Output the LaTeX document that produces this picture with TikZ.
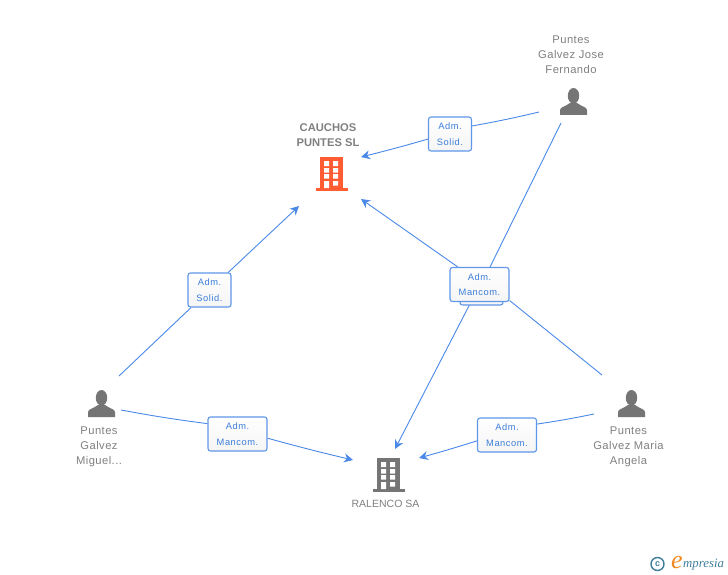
\documentclass[tikz,border=0pt]{standalone}
\usepackage{fontspec}
\setmainfont{Liberation Sans}
\newfontfamily\logofont{Liberation Serif}
\usetikzlibrary{arrows.meta,backgrounds}
\definecolor{linkblue}{HTML}{4A89E8}
\definecolor{boxblue}{HTML}{5F97EA}
\definecolor{labelblue}{HTML}{3B7DD8}
\definecolor{namegray}{HTML}{808080}
\definecolor{icongray}{HTML}{757575}
\definecolor{iconorange}{HTML}{FF5C33}
\definecolor{logoteal}{HTML}{3F7F9C}
\definecolor{logoorange}{HTML}{F08A24}
\tikzset{
  link/.style={draw=linkblue,line width=0.9pt},
  linkarrow/.style={link,-{Stealth[length=9pt,width=9pt]}},
  rolebox/.style={draw=boxblue,line width=1.1pt,rounded corners=2.5pt,top color=white,bottom color=white!96!black,
    inner sep=0pt,align=center,text=labelblue,font=\fontsize{9.3}{15.5}\selectfont\addfontfeature{LetterSpace=6}},
  smallbox/.style={rolebox,minimum width=43pt,minimum height=34pt},
  widebox/.style={rolebox,minimum width=59pt,minimum height=34pt},
  namelabel/.style={inner sep=0pt,align=center,text=namegray,font=\fontsize{11.2}{15}\selectfont\addfontfeature{LetterSpace=4}},
  person/.pic={
    \fill[icongray] (0,7.8) ellipse (5.7 and 7.8);
    \fill[icongray] (-13.5,27) -- (-13.5,22) .. controls (-13.3,19) and (-8,18.5) .. (-3.5,15) -- (3.5,15) .. controls (8,18.5) and (13.3,19) .. (13.5,22) -- (13.5,27) -- cycle;
  },
  building/.pic={
    \fill[pic actions] (0,0) rectangle (23,31.5);
    \fill[pic actions] (-4.5,31) rectangle (27.5,34);
    \fill[white] (4,4) rectangle (9,9) (13,4) rectangle (18,9)
      (4,11) rectangle (9,15.5) (13,11) rectangle (18,15.5)
      (4,17) rectangle (9,21.5) (13,17) rectangle (18,21.5)
      (4,24) rectangle (9,31) (13,24) rectangle (18,28.5);
  },
}
\begin{document}
\begin{tikzpicture}[x=1pt,y=-1pt]
\useasboundingbox (0,0) rectangle (728,575);
% icons
\pic at (573.5,88) {person};
\pic at (101.5,390) {person};
\pic at (631.5,390) {person};
\pic[fill=iconorange] at (320,157) {building};
\pic[fill=icongray] at (377,458) {building};
% names
\node[namelabel] (jose) at (571,54.7) {Puntes\\Galvez Jose\\Fernando};
\node[namelabel] (miguel) at (99,447.3) {Puntes\\Galvez\\Miguel...};
\node[namelabel] (maria) at (628.5,447.3) {Puntes\\Galvez Maria\\Angela};
\node[namelabel,font=\fontsize{11.2}{15}\selectfont\bfseries] (cauchos) at (328,135.5) {CAUCHOS\\PUNTES SL};
\node[namelabel,font=\fontsize{10.5}{15}\selectfont] (ralenco) at (385.5,504) {RALENCO SA};
% free ends
\coordinate (joseA) at (539,112);
\coordinate (joseB) at (561,123);
\coordinate (miguelA) at (119,376);
\coordinate (miguelB) at (121,410);
\coordinate (mariaA) at (602,375);
\coordinate (mariaB) at (594,414);
\coordinate (cauchosA) at (361,157);
\coordinate (cauchosB) at (361,199);
\coordinate (cauchosC) at (299,206);
\coordinate (ralencoA) at (395,449);
\coordinate (ralencoB) at (353,460);
\coordinate (ralencoC) at (419,458);
% boxes
\node[smallbox] (back) at (481.5,288) {};
\node[widebox] (bmid) at (479.5,284.5) {Adm.\\Mancom.};
\node[smallbox] (bjose) at (450,134) {Adm.\\Solid.};
\node[smallbox] (bmig) at (209.5,290) {Adm.\\Solid.};
\node[widebox] (bmigr) at (237.5,434) {Adm.\\Mancom.};
\node[widebox] (bmar) at (507,435) {Adm.\\Mancom.};
% connectors
\begin{scope}[on background layer]
\fill[white] (0,0) rectangle (728,575);
\draw[link] (joseA) to[bend left=1.5] (bjose.20);
\draw[linkarrow] (bjose.193) to[bend left=1] (cauchosA);
\draw[link] (miguelA) -- (bmig);
\draw[linkarrow] (bmig) -- (cauchosC);
\draw[link] (miguelB) to[bend right=1.5] (bmigr.161);
\draw[linkarrow] (bmigr.-8) to[bend right=1] (ralencoB);
\draw[link] (mariaB) to[bend left=1.5] (bmar.20);
\draw[linkarrow] (bmar.191) to[bend left=1] (ralencoC);
\draw[link] (joseB) -- (bmid.59);
\draw[linkarrow] (bmid.244) -- (ralencoA);
\draw[link] (mariaA) -- (bmid.-28);
\draw[linkarrow] (bmid.141) -- (cauchosB);
\end{scope}
% logo
\node[circle,draw=logoteal,line width=1.4pt,minimum size=13pt,inner sep=0pt,text=logoteal,font=\fontsize{9}{9}\selectfont\bfseries] (copyr) at (657.5,564) {c};
\node[inner sep=0pt,text=logoorange,font=\logofont\itshape\fontsize{26}{26}\selectfont] (logoe) at (677,562) {e};
\node[inner sep=0pt,anchor=west,text=logoteal,font=\logofont\itshape\fontsize{12.8}{12.8}\selectfont] (logot) at (683,565) {mpresia};
\end{tikzpicture}
\end{document}
